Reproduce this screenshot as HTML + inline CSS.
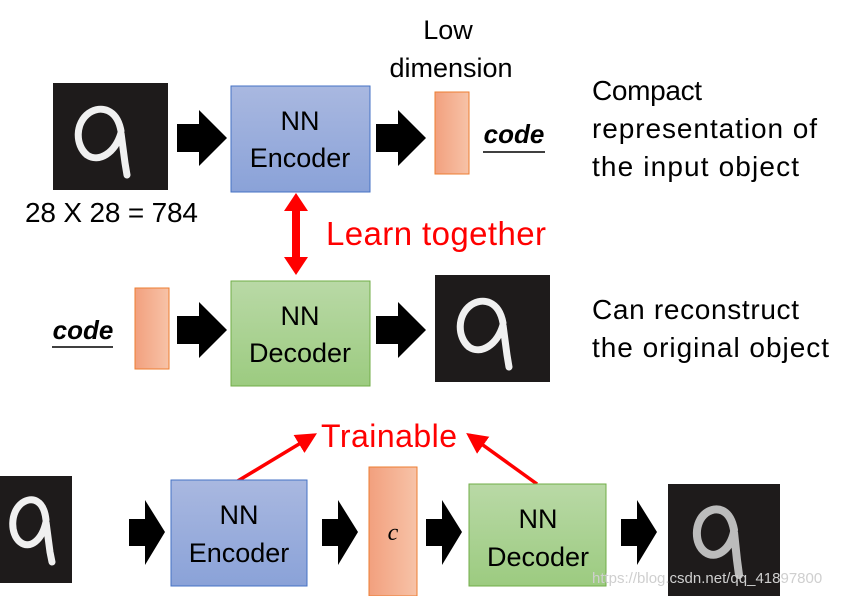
<!DOCTYPE html>
<html><head><meta charset="utf-8"><style>
html,body{margin:0;padding:0;background:#fff;}
svg{display:block;}
text{font-family:"Liberation Sans",sans-serif;}
</style></head><body>
<svg width="850" height="596" viewBox="0 0 850 596" xmlns="http://www.w3.org/2000/svg">
<defs>
<linearGradient id="blue" x1="0" y1="0" x2="0" y2="1"><stop offset="0" stop-color="#a9b8e0"/><stop offset="1" stop-color="#8aa2d8"/></linearGradient>
<linearGradient id="green" x1="0" y1="0" x2="0" y2="1"><stop offset="0" stop-color="#b9d9a6"/><stop offset="1" stop-color="#9ccb80"/></linearGradient>
<linearGradient id="orange" x1="0" y1="0" x2="1" y2="0"><stop offset="0" stop-color="#f2a07e"/><stop offset="1" stop-color="#f7c3a8"/></linearGradient>
<marker id="rh" markerWidth="6" markerHeight="6" refX="5" refY="3" orient="auto" markerUnits="strokeWidth"><path d="M0,0 L6,3 L0,6 z" fill="#f00"/></marker>
<g id="digit">
<rect width="115" height="107" fill="#1e1b1b"/>
<path d="M68,48 C64,26 48,22 36,30 C22,40 22,62 34,72 C46,80 62,70 68,50 L72,80 L74,92" fill="none" stroke="#f0f0f0" stroke-width="7" stroke-linecap="round"/>
</g>
</defs>
<!-- top row -->
<use href="#digit" x="53" y="83"/>
<path d="M177,124 h22 v-14 l28,28 l-28,28 v-14 h-22z" fill="#000"/>
<rect x="231" y="86" width="139" height="106" fill="url(#blue)" stroke="#4472c4" stroke-width="1"/>
<text x="300" y="130" font-size="27" text-anchor="middle">NN</text>
<text x="300" y="167" font-size="27" text-anchor="middle">Encoder</text>
<path d="M376,124 h22 v-14 l28,28 l-28,28 v-14 h-22z" fill="#000"/>
<rect x="435" y="92" width="34" height="82" fill="url(#orange)" stroke="#ed7d31" stroke-width="1"/>
<text x="448" y="39" font-size="27" text-anchor="middle">Low</text>
<text x="451" y="77" font-size="27" text-anchor="middle">dimension</text>
<text x="514" y="143" font-size="26" font-weight="bold" font-style="italic" text-anchor="middle">code</text>
<line x1="483" y1="152" x2="545" y2="152" stroke="#000" stroke-width="1.5"/>
<text x="592" y="100" font-size="28" textLength="110">Compact</text>
<text x="592" y="138" font-size="28" textLength="225">representation of</text>
<text x="592" y="176" font-size="28" textLength="207">the input object</text>
<text x="25" y="222" font-size="28" textLength="173">28 X 28 = 784</text>
<path d="M296,193 l-12,18 h8 v46 h-8 l12,18 l12,-18 h-8 v-46 h8z" fill="#f00"/>
<text x="326" y="245" font-size="33" fill="#f00" textLength="220">Learn together</text>
<!-- middle row -->
<text x="83" y="339" font-size="26" font-weight="bold" font-style="italic" text-anchor="middle">code</text>
<line x1="52" y1="347" x2="113" y2="347" stroke="#000" stroke-width="1.5"/>
<rect x="135" y="288" width="34" height="81" fill="url(#orange)" stroke="#ed7d31" stroke-width="1"/>
<path d="M177,316 h22 v-14 l28,28 l-28,28 v-14 h-22z" fill="#000"/>
<rect x="231" y="281" width="139" height="105" fill="url(#green)" stroke="#70ad47" stroke-width="1"/>
<text x="300" y="325" font-size="27" text-anchor="middle">NN</text>
<text x="300" y="362" font-size="27" text-anchor="middle">Decoder</text>
<path d="M376,316 h22 v-14 l28,28 l-28,28 v-14 h-22z" fill="#000"/>
<use href="#digit" x="435" y="275"/>
<text x="592" y="319" font-size="28" textLength="207">Can reconstruct</text>
<text x="592" y="357" font-size="28" textLength="237">the original object</text>
<!-- bottom row -->
<text x="389" y="447" font-size="32" fill="#f00" text-anchor="middle" textLength="136">Trainable</text>
<line x1="236" y1="482" x2="314" y2="435" stroke="#f00" stroke-width="3.5" marker-end="url(#rh)"/>
<line x1="537" y1="484" x2="469" y2="435" stroke="#f00" stroke-width="3.5" marker-end="url(#rh)"/>
<rect x="0" y="476" width="72" height="107" fill="#1e1b1b"/>
<path d="M46,520 C44,500 32,496 22,503 C10,512 10,534 20,542 C30,550 42,540 46,522 L50,552 L52,562" fill="none" stroke="#f0f0f0" stroke-width="7" stroke-linecap="round"/>
<path d="M129,519 h16 v-19 l20,32 l-20,33 v-19 h-16z" fill="#000"/>
<rect x="171" y="480" width="136" height="106" fill="url(#blue)" stroke="#4472c4" stroke-width="1"/>
<text x="239" y="524" font-size="27" text-anchor="middle">NN</text>
<text x="239" y="562" font-size="27" text-anchor="middle">Encoder</text>
<path d="M322,519 h16 v-19 l20,32 l-20,33 v-19 h-16z" fill="#000"/>
<rect x="369" y="467" width="48" height="129" fill="url(#orange)" stroke="#ed7d31" stroke-width="1"/>
<text x="393" y="540" font-size="24" font-style="italic" text-anchor="middle" style="font-family:'Liberation Serif',serif">c</text>
<path d="M426,519 h16 v-19 l20,32 l-20,33 v-19 h-16z" fill="#000"/>
<rect x="469" y="484" width="137" height="102" fill="url(#green)" stroke="#70ad47" stroke-width="1"/>
<text x="538" y="528" font-size="27" text-anchor="middle">NN</text>
<text x="538" y="566" font-size="27" text-anchor="middle">Decoder</text>
<path d="M621,519 h16 v-19 l20,32 l-20,33 v-19 h-16z" fill="#000"/>
<rect x="668" y="484" width="112" height="112" fill="#1e1b1b"/>
<path d="M734,530 C730,508 716,506 706,513 C694,522 694,544 705,552 C716,560 730,550 734,532 L737,560 L739,575" fill="none" stroke="#d8d8d8" stroke-width="8" stroke-linecap="round" opacity="0.85"/>
<text x="592" y="583" font-size="15" fill="#cfcfcf">https://blog.csdn.net/qq_41897800</text>
</svg>
</body></html>
